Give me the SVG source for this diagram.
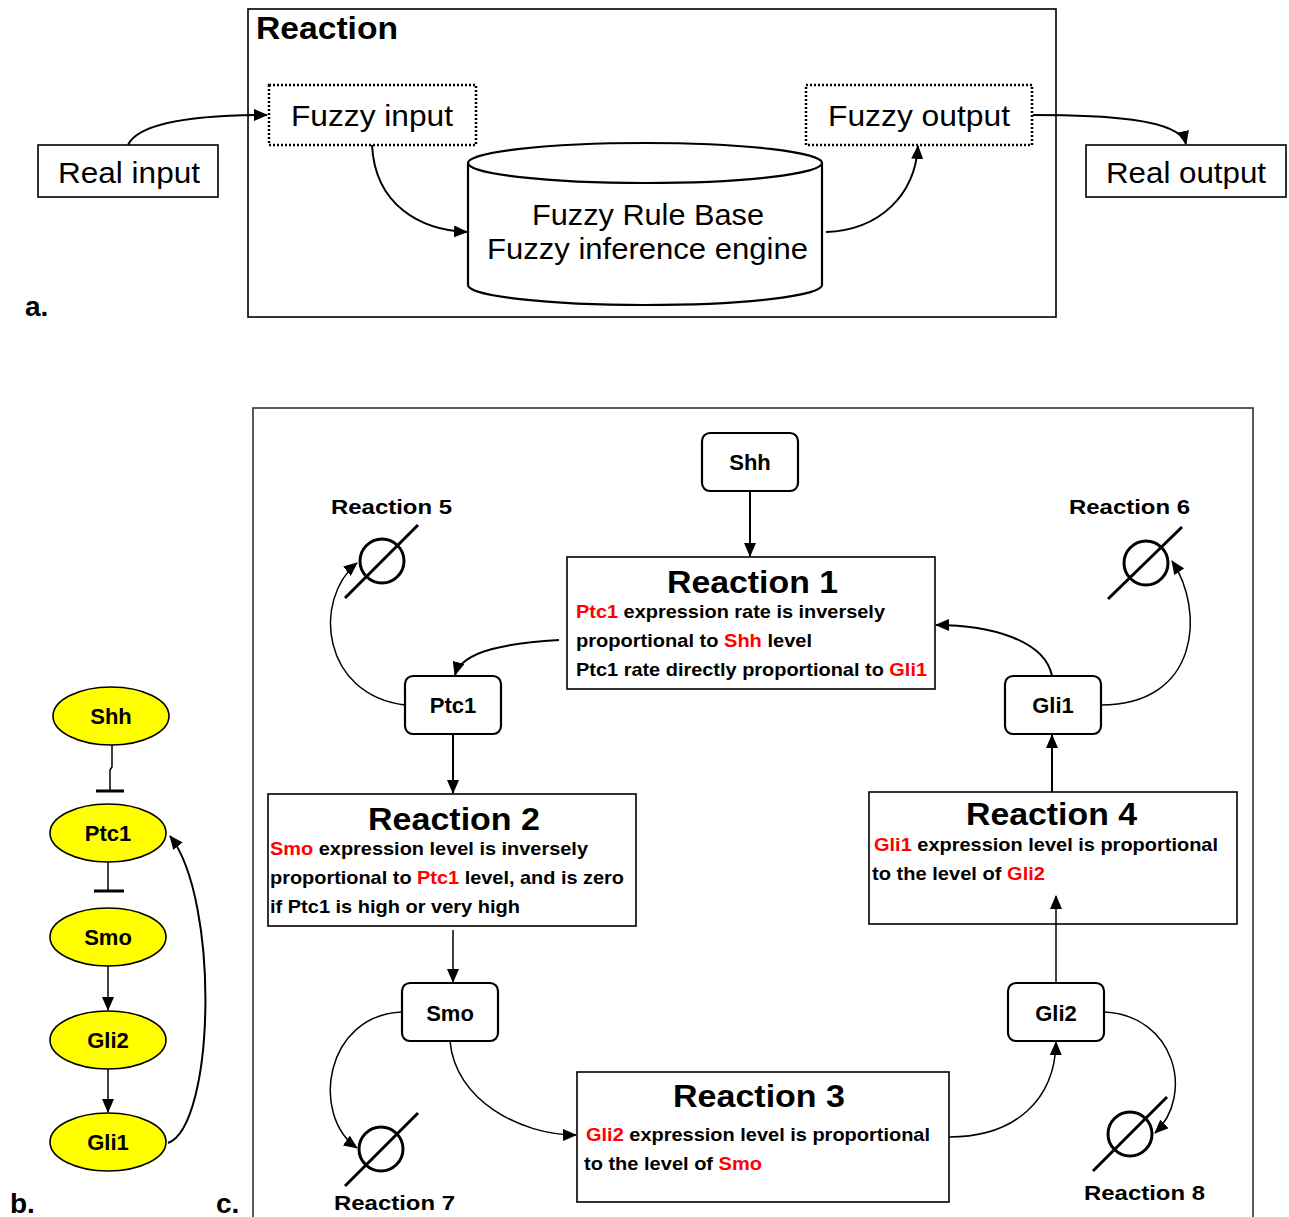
<svg xmlns="http://www.w3.org/2000/svg" width="1289" height="1217" viewBox="0 0 1289 1217">
<style>
text{font-family:"Liberation Sans",Arial,sans-serif;fill:#000}
.a{font-size:30px}
.ttl{font-size:32px;font-weight:bold}
.lbl{font-size:28px;font-weight:bold}
.nd{font-size:22px;font-weight:bold}
.rx{font-size:21px;font-weight:bold}
.ln{font-size:19px;font-weight:bold}
.r{fill:#ff0000}
.box{fill:#fff;stroke:#000;stroke-width:1.6}
.dot{fill:#fff;stroke:#000;stroke-width:2.5;stroke-dasharray:2 2}
.rnd{fill:#fff;stroke:#000;stroke-width:2.2}
.ell{fill:#ffff00;stroke:#000;stroke-width:1.6}
.c{fill:none;stroke:#000;stroke-width:2}
.c1{fill:none;stroke:#000;stroke-width:1.5}
.sym{fill:none;stroke:#000;stroke-width:3}
</style>
<defs>
<marker id="ah" markerWidth="14" markerHeight="12" refX="13" refY="6" orient="auto" markerUnits="userSpaceOnUse">
<path d="M0,0 L14,6 L0,12 Z" fill="#000"/>
</marker>
</defs>

<!-- Part a -->
<g id="reaction-frame">
<rect x="248" y="9" width="808" height="308" class="box"/>
<text x="256" y="39" class="ttl" textLength="142" lengthAdjust="spacingAndGlyphs">Reaction</text>
</g>
<g id="real-input">
<rect x="38" y="145" width="180" height="52" class="box"/>
<text x="58" y="183" class="a" textLength="142" lengthAdjust="spacingAndGlyphs">Real input</text>
</g>
<g id="fuzzy-input">
<rect x="269" y="85" width="207" height="60" class="dot"/>
<text x="291" y="126" class="a" textLength="162" lengthAdjust="spacingAndGlyphs">Fuzzy input</text>
</g>
<g id="fuzzy-output">
<rect x="806" y="85" width="226" height="60" class="dot"/>
<text x="828" y="126" class="a" textLength="182" lengthAdjust="spacingAndGlyphs">Fuzzy output</text>
</g>
<g id="real-output">
<rect x="1086" y="145" width="200" height="52" class="box"/>
<text x="1106" y="183" class="a" textLength="160" lengthAdjust="spacingAndGlyphs">Real output</text>
</g>
<g id="rule-base">
<path d="M468,163 L468,285 A177,20 0 0 0 822,285 L822,163" class="rnd" stroke-width="2"/>
<ellipse cx="645" cy="163" rx="177" ry="20" class="rnd" stroke-width="2"/>
<text x="532" y="225" class="a" textLength="232" lengthAdjust="spacingAndGlyphs">Fuzzy Rule Base</text>
<text x="487" y="259" class="a" textLength="321" lengthAdjust="spacingAndGlyphs">Fuzzy inference engine</text>
</g>
<text x="25" y="316" class="lbl">a.</text>

<g id="connectors-a">
<path d="M128,145 C140,120 210,115 267,115" class="c" marker-end="url(#ah)"/>
<path d="M372,145 C375,205 420,230 467,232" class="c" marker-end="url(#ah)"/>
<path d="M826,232 C880,230 915,195 918,146" class="c" marker-end="url(#ah)"/>
<path d="M1033,115 C1100,115 1180,118 1186,144" class="c" marker-end="url(#ah)"/>
</g>

<!-- Part b -->
<g id="b-shh"><ellipse cx="111" cy="716" rx="58" ry="29" class="ell"/><text x="111" y="724" class="nd" text-anchor="middle">Shh</text></g>
<g id="b-ptc1"><ellipse cx="108" cy="833" rx="58" ry="29" class="ell"/><text x="108" y="841" class="nd" text-anchor="middle">Ptc1</text></g>
<g id="b-smo"><ellipse cx="108" cy="937" rx="58" ry="29" class="ell"/><text x="108" y="945" class="nd" text-anchor="middle">Smo</text></g>
<g id="b-gli2"><ellipse cx="108" cy="1040" rx="58" ry="29" class="ell"/><text x="108" y="1048" class="nd" text-anchor="middle">Gli2</text></g>
<g id="b-gli1"><ellipse cx="108" cy="1142" rx="58" ry="29" class="ell"/><text x="108" y="1150" class="nd" text-anchor="middle">Gli1</text></g>
<g id="connectors-b">
<path d="M112,745 L112,767 L110,770 L110,791" class="c1"/>
<line x1="96" y1="791" x2="124" y2="791" stroke="#000" stroke-width="3"/>
<path d="M108,862 L108,891" class="c1"/>
<line x1="94" y1="891" x2="124" y2="891" stroke="#000" stroke-width="3"/>
<path d="M108,966 L108,1010" class="c1" marker-end="url(#ah)"/>
<path d="M108,1069 L108,1112" class="c1" marker-end="url(#ah)"/>
<path d="M168,1143 C215,1125 220,900 170,836" class="c" marker-end="url(#ah)"/>
</g>
<text x="10" y="1213" class="lbl">b.</text>
<text x="216" y="1213" class="lbl">c.</text>

<!-- Part c -->
<rect id="c-frame" x="253" y="408" width="1000" height="812" fill="none" stroke="#333" stroke-width="1.6"/>

<g id="shh"><rect x="702" y="433" width="96" height="58" rx="8" class="rnd"/><text x="750" y="470" class="nd" text-anchor="middle">Shh</text></g>
<g id="ptc1"><rect x="405" y="676" width="96" height="58" rx="8" class="rnd"/><text x="453" y="713" class="nd" text-anchor="middle">Ptc1</text></g>
<g id="gli1"><rect x="1005" y="676" width="96" height="58" rx="8" class="rnd"/><text x="1053" y="713" class="nd" text-anchor="middle">Gli1</text></g>
<g id="smo"><rect x="402" y="983" width="96" height="58" rx="8" class="rnd"/><text x="450" y="1021" class="nd" text-anchor="middle">Smo</text></g>
<g id="gli2"><rect x="1008" y="983" width="96" height="58" rx="8" class="rnd"/><text x="1056" y="1021" class="nd" text-anchor="middle">Gli2</text></g>

<g id="reaction1">
<rect x="567" y="557" width="368" height="132" class="box"/>
<text x="667" y="593" class="ttl" textLength="171" lengthAdjust="spacingAndGlyphs">Reaction 1</text>
<text x="576" y="618" class="ln" textLength="309" lengthAdjust="spacingAndGlyphs"><tspan class="r">Ptc1</tspan> expression rate is inversely</text>
<text x="576" y="647" class="ln" textLength="236" lengthAdjust="spacingAndGlyphs">proportional to <tspan class="r">Shh</tspan> level</text>
<text x="576" y="676" class="ln" textLength="351" lengthAdjust="spacingAndGlyphs">Ptc1 rate directly proportional to <tspan class="r">Gli1</tspan></text>
</g>
<g id="reaction2">
<rect x="268" y="794" width="368" height="132" class="box"/>
<text x="368" y="830" class="ttl" textLength="172" lengthAdjust="spacingAndGlyphs">Reaction 2</text>
<text x="270" y="855" class="ln" textLength="318" lengthAdjust="spacingAndGlyphs"><tspan class="r">Smo</tspan> expression level is inversely</text>
<text x="270" y="884" class="ln" textLength="354" lengthAdjust="spacingAndGlyphs">proportional to <tspan class="r">Ptc1</tspan> level, and is zero</text>
<text x="270" y="913" class="ln" textLength="250" lengthAdjust="spacingAndGlyphs">if Ptc1 is high or very high</text>
</g>
<g id="reaction3">
<rect x="577" y="1072" width="372" height="130" class="box"/>
<text x="673" y="1107" class="ttl" textLength="172" lengthAdjust="spacingAndGlyphs">Reaction 3</text>
<text x="586" y="1141" class="ln" textLength="344" lengthAdjust="spacingAndGlyphs"><tspan class="r">Gli2</tspan> expression level is proportional</text>
<text x="584" y="1170" class="ln" textLength="178" lengthAdjust="spacingAndGlyphs">to the level of <tspan class="r">Smo</tspan></text>
</g>
<g id="reaction4">
<rect x="869" y="792" width="368" height="132" class="box"/>
<text x="966" y="825" class="ttl" textLength="171" lengthAdjust="spacingAndGlyphs">Reaction 4</text>
<text x="874" y="851" class="ln" textLength="344" lengthAdjust="spacingAndGlyphs"><tspan class="r">Gli1</tspan> expression level is proportional</text>
<text x="872" y="880" class="ln" textLength="173" lengthAdjust="spacingAndGlyphs">to the level of  <tspan class="r">Gli2</tspan></text>
</g>

<g id="reaction5">
<circle cx="382" cy="561" r="22" class="sym"/>
<line x1="345" y1="598" x2="418" y2="525" class="sym"/>
<text x="331" y="514" class="rx" textLength="121" lengthAdjust="spacingAndGlyphs">Reaction 5</text>
</g>
<g id="reaction6">
<circle cx="1146" cy="563" r="22" class="sym"/>
<line x1="1108" y1="599" x2="1182" y2="527" class="sym"/>
<text x="1069" y="514" class="rx" textLength="121" lengthAdjust="spacingAndGlyphs">Reaction 6</text>
</g>
<g id="reaction7">
<circle cx="381" cy="1149" r="22" class="sym"/>
<line x1="345" y1="1186" x2="418" y2="1113" class="sym"/>
<text x="334" y="1210" class="rx" textLength="121" lengthAdjust="spacingAndGlyphs">Reaction 7</text>
</g>
<g id="reaction8">
<circle cx="1130" cy="1134" r="22" class="sym"/>
<line x1="1093" y1="1171" x2="1167" y2="1097" class="sym"/>
<text x="1084" y="1200" class="rx" textLength="121" lengthAdjust="spacingAndGlyphs">Reaction 8</text>
</g>

<g id="connectors-c">
<path d="M750,491 L750,556" class="c" marker-end="url(#ah)"/>
<path d="M559,640 C510,643 462,650 455,675" class="c" marker-end="url(#ah)"/>
<path d="M453,734 L453,793" class="c" marker-end="url(#ah)"/>
<path d="M453,930 L453,982" class="c1" marker-end="url(#ah)"/>
<path d="M405,705 C322,695 312,600 357,563" class="c1" marker-end="url(#ah)"/>
<path d="M1101,705 C1200,705 1205,610 1172,561" class="c1" marker-end="url(#ah)"/>
<path d="M1052,676 C1045,640 990,625 936,625" class="c" marker-end="url(#ah)"/>
<path d="M1052,792 L1052,735" class="c" marker-end="url(#ah)"/>
<path d="M1056,983 L1056,896" class="c1" marker-end="url(#ah)"/>
<path d="M402,1012 C325,1015 310,1115 357,1148" class="c1" marker-end="url(#ah)"/>
<path d="M450,1041 C455,1100 520,1135 576,1135" class="c1" marker-end="url(#ah)"/>
<path d="M949,1137 C1015,1137 1055,1100 1056,1042" class="c1" marker-end="url(#ah)"/>
<path d="M1104,1012 C1175,1015 1195,1095 1155,1133" class="c1" marker-end="url(#ah)"/>
</g>
</svg>
